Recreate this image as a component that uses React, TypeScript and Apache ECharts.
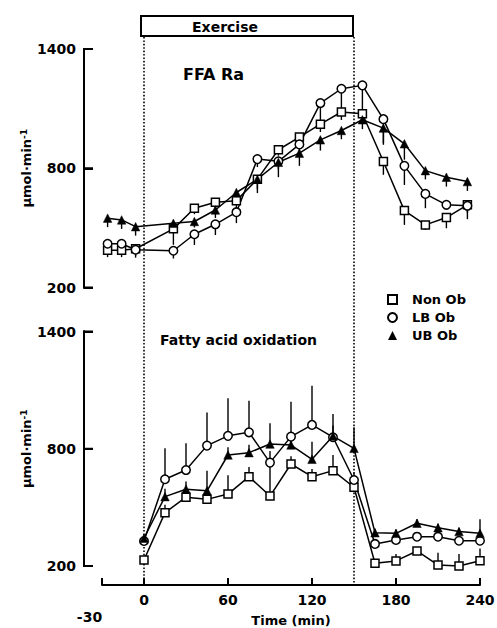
import React, { useEffect, useRef } from "react";
import * as echarts from "echarts";

// ---- data ----
const TOP_TIMES = [-26, -16, -6, 21, 36, 51, 66, 81, 96, 111, 126, 141, 156, 171, 186, 201, 216, 231];
const TOP_NON_OB = [388, 388, 395, 495, 599, 629, 637, 745, 893, 957, 1022, 1083, 1074, 834, 587, 515, 552, 616];
const TOP_LB_OB = [420, 420, 390, 385, 468, 518, 579, 846, 835, 920, 1128, 1200, 1217, 1047, 812, 671, 616, 611];
const TOP_UB_OB = [549, 540, 506, 523, 532, 590, 678, 745, 830, 876, 943, 990, 1044, 1002, 923, 788, 755, 733];
const TOP_NON_OB_ERR = [35, 35, 35, 80, 30, 30, 40, 70, 30, 30, 40, 40, 40, 67, 72, 25, 54, 40];
const TOP_LB_OB_ERR = [35, 35, 40, 39, 54, 54, 55, 40, 40, 40, 106, 114, 140, 121, 96, 72, 25, 67];
const TOP_UB_OB_ERR = [45, 45, 45, 30, 30, 40, 40, 50, 75, 64, 54, 44, 47, 84, 80, 44, 47, 47];

const BOT_TIMES = [0, 15, 30, 45, 60, 75, 90, 105, 120, 135, 150, 165, 180, 195, 210, 225, 240];
const BOT_NON_OB = [231, 473, 552, 541, 568, 657, 558, 722, 657, 688, 603, 214, 226, 277, 205, 200, 227];
const BOT_LB_OB = [328, 644, 691, 816, 866, 884, 729, 862, 922, 859, 640, 313, 333, 350, 350, 329, 329];
const BOT_UB_OB = [342, 555, 593, 585, 768, 780, 824, 819, 746, 865, 802, 370, 367, 419, 396, 376, 367];
const BOT_NON_OB_ERR = [15, 40, 30, 30, 97, 50, 171, 40, 40, 80, 30, 20, 36, 20, 63, 61, 63];
const BOT_LB_OB_ERR = [15, 159, 137, 169, 193, 162, 60, 179, 200, 60, 40, 15, 20, 20, 20, 20, 20];
const BOT_UB_OB_ERR = [15, 40, 40, 102, 40, 40, 106, 40, 90, 113, 108, 20, 20, 20, 20, 20, 72];

const X_TICKS = [-30, 0, 60, 120, 180, 240];
const Y_TICKS = [200, 800, 1400];
const Y_MIN = 200;
const Y_MAX = 1400;
const Y_STEP = 600;
const X_MIN = -30;
const X_MAX = 240;
const EXERCISE_START = 0;
const EXERCISE_END = 150;

const FONT = "DejaVu Sans";
const Y_OFFSET = 18;
const X_OFFSET = 19;

const SYMBOLS: Record<string, any> = {
  "Non Ob": { symbol: "rect", symbolSize: 8, itemStyle: { color: "#fff", borderColor: "#000", borderWidth: 1.5 } },
  "LB Ob": { symbol: "circle", symbolSize: 8.5, itemStyle: { color: "#fff", borderColor: "#000", borderWidth: 1.5 } },
  "UB Ob": { symbol: "triangle", symbolSize: 8.5, itemStyle: { color: "#000", borderColor: "#000", borderWidth: 0.5 } },
};

function lineSeries(name: string, times: number[], vals: number[], g: number) {
  const s = SYMBOLS[name];
  return {
    type: "line",
    name,
    xAxisIndex: g,
    yAxisIndex: g,
    clip: false,
    data: times.map((t, i) => [t, vals[i]]),
    symbol: s.symbol,
    symbolSize: s.symbolSize,
    showSymbol: true,
    itemStyle: s.itemStyle,
    lineStyle: { color: "#000", width: 1.5 },
    z: 4,
  };
}

function errSeries(name: string, times: number[], vals: number[], errs: number[], g: number, dir: number) {
  return {
    type: "custom",
    name: name + " SE",
    xAxisIndex: g,
    yAxisIndex: g,
    clip: false,
    data: times.map((t, i) => [t, vals[i], errs[i]]),
    z: 3,
    renderItem: (_p: any, api: any) => {
      const x = api.value(0);
      const y = api.value(1);
      const e = api.value(2);
      const p1 = api.coord([x, y]);
      const p2 = api.coord([x, y + dir * e]);
      return {
        type: "line",
        shape: { x1: p1[0], y1: p1[1], x2: p2[0], y2: p2[1] },
        style: { stroke: "#000", lineWidth: 1.4 },
      };
    },
  };
}

// y-axis bracket (vertical line + inward ticks) drawn through the grid's own scales
function bracketSeries(g: number) {
  return {
    type: "custom",
    name: "axis" + g,
    xAxisIndex: g,
    yAxisIndex: g,
    clip: false,
    silent: true,
    z: 20,
    data: Y_TICKS.map((v) => [X_MIN, v]),
    renderItem: (params: any, api: any) => {
      const p = api.coord([api.value(0), api.value(1)]);
      const x = p[0] - Y_OFFSET;
      const children: any[] = [
        { type: "line", shape: { x1: x, y1: p[1], x2: x + 9, y2: p[1] }, style: { stroke: "#000", lineWidth: 2 } },
      ];
      if (params.dataIndex === 0) {
        const top = api.coord([X_MIN, Y_MAX]);
        const bot = api.coord([X_MIN, Y_MIN]);
        children.push({
          type: "line",
          shape: { x1: x, y1: top[1] - 1, x2: x, y2: bot[1] + 1 },
          style: { stroke: "#000", lineWidth: 2 },
        });
      }
      return { type: "group", children };
    },
  };
}

const yAxisBase = (g: number) => ({
  type: "value",
  gridIndex: g,
  min: Y_MIN,
  max: Y_MAX,
  interval: Y_STEP,
  offset: Y_OFFSET,
  axisLine: { show: true, onZero: false, lineStyle: { color: "#000", width: 2 } },
  axisTick: { show: true, inside: true, length: 9, lineStyle: { color: "#000", width: 2 } },
  axisLabel: {
    margin: 8,
    color: "#000",
    fontFamily: FONT,
    fontWeight: "bold",
    fontSize: 14,
    formatter: (v: number) => String(v),
  },
  splitLine: { show: false },
  name: "{a|μmol·min}{s|-1}",
  nameLocation: "middle",
  nameRotate: 90,
  nameGap: 50,
  nameMoveOverlap: false,
  nameTextStyle: {
    color: "#000",
    fontFamily: FONT,
    fontWeight: "bold",
    fontSize: 13,
    rich: {
      a: { fontFamily: FONT, fontWeight: "bold", fontSize: 13, color: "#000" },
      s: { fontFamily: FONT, fontWeight: "bold", fontSize: 9, color: "#000", verticalAlign: "top", padding: [0, 0, 6, 0] },
    },
  },
});

// second, label-less y axes sitting at the left edge of helper grids (same vertical extent)
const yAxisHelper = (g: number) => ({
  type: "value",
  gridIndex: g,
  min: Y_MIN,
  max: Y_MAX,
  interval: Y_STEP,
  axisLine: { show: true, onZero: false, lineStyle: { color: "#000", width: 2 } },
  axisTick: { show: true, inside: true, length: 9, lineStyle: { color: "#000", width: 2 } },
  axisLabel: { show: false },
  splitLine: { show: false },
});

export default function App() {
  const ref = useRef<HTMLDivElement>(null);
  useEffect(() => {
    if (!ref.current) return;
    const chart = echarts.init(ref.current, null, { renderer: "svg" });
    const option: any = {
      animation: false,
      title: [
        { text: "FFA Ra", left: 183, top: 66, padding: 0, textStyle: { fontFamily: FONT, fontWeight: "bold", fontSize: 16, color: "#000" } },
        { text: "Fatty acid oxidation", left: 160, top: 333, padding: 0, textStyle: { fontFamily: FONT, fontWeight: "bold", fontSize: 14, color: "#000" } },
      ],
      legend: {
        orient: "vertical",
        left: 382,
        top: 288,
        itemWidth: 9,
        itemHeight: 9,
        itemGap: 5,
        selectedMode: false,
        textStyle: { fontFamily: FONT, fontWeight: "bold", fontSize: 13, color: "#000", padding: [0, 0, 0, 10] },
        data: [
          { name: "Non Ob", icon: "rect", itemStyle: { color: "#fff", borderColor: "#000", borderWidth: 2 } },
          { name: "LB Ob", icon: "circle", itemStyle: { color: "#fff", borderColor: "#000", borderWidth: 2 } },
          { name: "UB Ob", icon: "triangle", itemStyle: { color: "#000", borderColor: "#000", borderWidth: 0 } },
        ],
      },
      grid: [
        { left: 102, width: 378, top: 49, height: 238.5, outerBoundsMode: "none", containLabel: false },
        { left: 102, width: 378, top: 331.5, height: 234.5, outerBoundsMode: "none", containLabel: false },
        { left: 102 - Y_OFFSET, width: 378 + Y_OFFSET, top: 49, height: 238.5, outerBoundsMode: "none", containLabel: false },
        { left: 102 - Y_OFFSET, width: 378 + Y_OFFSET, top: 331.5, height: 234.5, outerBoundsMode: "none", containLabel: false },
      ],
      xAxis: [
        { type: "value", gridIndex: 0, min: X_MIN, max: X_MAX, show: false, splitLine: { show: false } },
        {
          type: "value",
          gridIndex: 1,
          min: X_MIN,
          max: X_MAX,
          offset: X_OFFSET,
          axisLine: { show: true, onZero: false, lineStyle: { color: "#000", width: 2 } },
          axisTick: { show: true, inside: true, length: 7, lineStyle: { color: "#000", width: 2 }, customValues: X_TICKS },
          axisLabel: {
            customValues: X_TICKS,
            margin: 8,
            color: "#000",
            fontFamily: FONT,
            fontWeight: "bold",
            fontSize: 14,
            formatter: (v: number) => (v === -30 ? "{low|-30}" : String(v)),
            rich: {
              low: { fontFamily: FONT, fontWeight: "bold", fontSize: 14, color: "#000", padding: [17, 25, 0, 0] },
            },
          },
          splitLine: { show: false },
          name: "Time (min)",
          nameLocation: "middle",
          nameGap: 29,
          nameMoveOverlap: false,
          nameTextStyle: { color: "#000", fontFamily: FONT, fontWeight: "bold", fontSize: 13 },
        },
        { type: "value", gridIndex: 2, min: 0, max: 1, show: false, splitLine: { show: false } },
        { type: "value", gridIndex: 3, min: 0, max: 1, show: false, splitLine: { show: false } },
      ],
      yAxis: [yAxisBase(0), yAxisBase(1), yAxisHelper(2), yAxisHelper(3)],
      series: [
        errSeries("Non Ob", TOP_TIMES, TOP_NON_OB, TOP_NON_OB_ERR, 0, -1),
        errSeries("LB Ob", TOP_TIMES, TOP_LB_OB, TOP_LB_OB_ERR, 0, -1),
        errSeries("UB Ob", TOP_TIMES, TOP_UB_OB, TOP_UB_OB_ERR, 0, -1),
        errSeries("Non Ob", BOT_TIMES, BOT_NON_OB, BOT_NON_OB_ERR, 1, 1),
        errSeries("LB Ob", BOT_TIMES, BOT_LB_OB, BOT_LB_OB_ERR, 1, 1),
        errSeries("UB Ob", BOT_TIMES, BOT_UB_OB, BOT_UB_OB_ERR, 1, 1),
        lineSeries("Non Ob", TOP_TIMES, TOP_NON_OB, 0),
        lineSeries("LB Ob", TOP_TIMES, TOP_LB_OB, 0),
        lineSeries("UB Ob", TOP_TIMES, TOP_UB_OB, 0),
        lineSeries("Non Ob", BOT_TIMES, BOT_NON_OB, 1),
        lineSeries("LB Ob", BOT_TIMES, BOT_LB_OB, 1),
        lineSeries("UB Ob", BOT_TIMES, BOT_UB_OB, 1),
        bracketSeries(0),
        bracketSeries(1),
      ],
    };
    chart.setOption(option);

    const toX = (v: number) => (chart.convertToPixel({ gridIndex: 1 }, [v, Y_MIN]) as number[])[0];
    const toY = (g: number, v: number) => (chart.convertToPixel({ gridIndex: g }, [0, v]) as number[])[1];

    const px0 = toX(EXERCISE_START);
    const px150 = toX(EXERCISE_END);
    const axisY = toY(1, Y_MIN) + X_OFFSET;

    chart.setOption({
      graphic: [
        {
          type: "line",
          z: 0,
          shape: { x1: px0, y1: 37, x2: px0, y2: axisY },
          style: { stroke: "#000", lineWidth: 1.6, lineDash: [1.6, 1.8] },
        },
        {
          type: "line",
          z: 0,
          shape: { x1: px150, y1: 37, x2: px150, y2: axisY },
          style: { stroke: "#000", lineWidth: 1.6, lineDash: [1.6, 1.8] },
        },
        {
          type: "rect",
          z: 1,
          shape: { x: px0 - 3, y: 16, width: px150 - px0 + 2, height: 20 },
          style: { fill: "#fff", stroke: "#000", lineWidth: 2 },
        },
        {
          type: "text",
          z: 2,
          x: px0 + 81,
          y: 26.5,
          style: {
            text: "Exercise",
            fontFamily: FONT,
            fontWeight: "bold",
            fontSize: 14,
            fill: "#000",
            align: "center",
            verticalAlign: "middle",
          },
        },
      ],
    });
    return () => chart.dispose();
  }, []);
  return (
    <div
      ref={ref}
      style={{ position: "fixed", left: 0, top: 0, width: 497, height: 628, background: "#fff" }}
    />
  );
}
